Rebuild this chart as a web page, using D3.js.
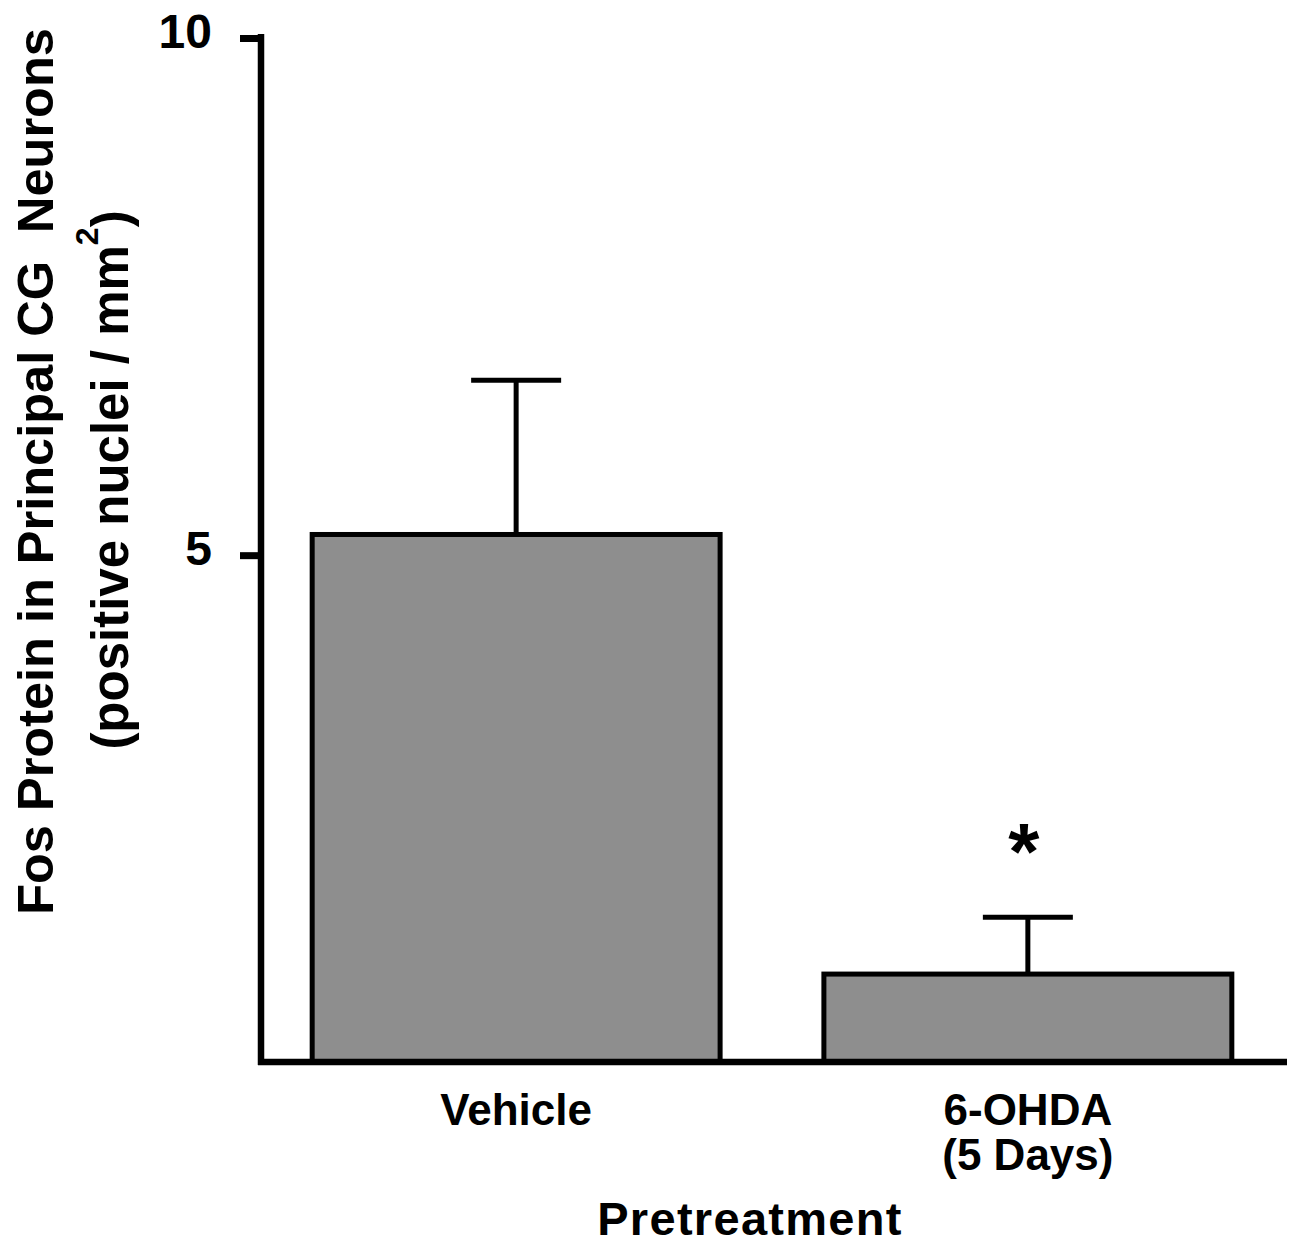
<!DOCTYPE html>
<html>
<head>
<meta charset="utf-8">
<script src="https://cdn.jsdelivr.net/npm/d3@7"></script>
<style>
  body { margin: 0; background: #fff; }
  text { font-family: "Liberation Sans", Arial, Helvetica, sans-serif; font-weight: bold; fill: #000; }
</style>
</head>
<body>
<div id="chart"></div>
<script>
// Data
var groups = ["Vehicle", "6-OHDA"];
var groupLines = [["Vehicle"], ["6-OHDA", "(5 Days)"]];
var means = [5.2, 0.95];
var sems = [1.49, 0.55];
var significant = [false, true];
var yTicks = [5, 10];

var svgWidth = 1293;
var svgHeight = 1247;

var svg = d3.select("#chart")
  .append("svg")
  .attr("width", svgWidth)
  .attr("height", svgHeight);

// Axis starts just above zero in the original figure
var yScale = d3.scaleLinear()
  .domain([0.1, 10])
  .range([1062, 38]);

var xScale = d3.scaleBand()
  .domain(groups)
  .range([259, 1285])
  .paddingInner(0.195)
  .paddingOuter(0.1);

var baseY = yScale(0.1);

// Bars
svg.selectAll("rect.bar")
  .data(groups)
  .enter()
  .append("rect")
  .attr("class", "bar")
  .attr("x", d => xScale(d) + 2)
  .attr("width", xScale.bandwidth() - 4)
  .attr("y", (d, i) => yScale(means[i]))
  .attr("height", (d, i) => baseY - yScale(means[i]))
  .attr("fill", "#8e8e8e")
  .attr("stroke", "#000")
  .attr("stroke-width", 5);

// Error bars (upper only)
var capHalf = 45;
groups.forEach(function(g, i) {
  var cx = xScale(g) + xScale.bandwidth() / 2;
  svg.append("line")
    .attr("x1", cx).attr("x2", cx)
    .attr("y1", yScale(means[i]))
    .attr("y2", yScale(means[i] + sems[i]))
    .attr("stroke", "#000")
    .attr("stroke-width", 5);
  svg.append("line")
    .attr("x1", cx - capHalf).attr("x2", cx + capHalf)
    .attr("y1", yScale(means[i] + sems[i]))
    .attr("y2", yScale(means[i] + sems[i]))
    .attr("stroke", "#000")
    .attr("stroke-width", 5);
  if (significant[i]) {
    svg.append("text")
      .attr("x", cx - 4)
      .attr("y", yScale(means[i] + sems[i]) - 38)
      .attr("text-anchor", "middle")
      .style("font-size", "80px")
      .text("*");
  }
});

// Y axis
var leftAxis = d3.axisLeft(yScale)
  .tickValues(yTicks)
  .tickFormat(d3.format("d"))
  .tickSize(21)
  .tickSizeOuter(0)
  .tickPadding(28);

var yAxisG = svg.append("g")
  .attr("transform", "translate(261,0)")
  .call(leftAxis);

yAxisG.select(".domain")
  .attr("stroke", "#000")
  .attr("stroke-width", 6.5)
  .attr("d", `M0,${baseY + 3}V${yScale(10) - 4}`);
yAxisG.selectAll(".tick line")
  .attr("stroke", "#000")
  .attr("stroke-width", 7);
yAxisG.selectAll(".tick text")
  .attr("dy", "0.19em")
  .style("font-size", "48px")
  .style("font-family", "'Liberation Sans', Arial, sans-serif")
  .style("font-weight", "bold");

// X axis line
svg.append("line")
  .attr("x1", 258).attr("x2", 1287)
  .attr("y1", baseY).attr("y2", baseY)
  .attr("stroke", "#000")
  .attr("stroke-width", 6.5);

// Category labels
var catLabels = svg.selectAll("text.cat")
  .data(groups)
  .enter()
  .append("text")
  .attr("class", "cat")
  .attr("text-anchor", "middle")
  .style("font-size", "44px");

catLabels.each(function(d, i) {
  var t = d3.select(this);
  var cx = xScale(d) + xScale.bandwidth() / 2;
  groupLines[i].forEach(function(line, j) {
    t.append("tspan")
      .attr("x", cx)
      .attr("y", 1125 + j * 45)
      .text(line);
  });
});

// Axis titles
svg.append("text")
  .attr("x", 750)
  .attr("y", 1235)
  .attr("text-anchor", "middle")
  .style("font-size", "47px")
  .style("letter-spacing", "1.3px")
  .text("Pretreatment");

var yTitle = svg.append("text")
  .attr("transform", "rotate(-90)")
  .attr("text-anchor", "middle")
  .style("font-size", "50.5px");

yTitle.append("tspan")
  .attr("x", -471.5)
  .attr("y", 53)
  .attr("xml:space", "preserve")
  .style("white-space", "pre")
  .text("Fos Protein in Principal CG  Neurons");

var line2 = svg.append("text")
  .attr("transform", "rotate(-90)")
  .attr("text-anchor", "middle")
  .style("font-size", "51px")
  .attr("x", -480)
  .attr("y", 128);
line2.append("tspan").text("(positive nuclei / mm");
line2.append("tspan")
  .attr("dy", -30)
  .style("font-size", "32px")
  .text("2");
line2.append("tspan")
  .attr("dy", 30)
  .text(")");
</script>
</body>
</html>
